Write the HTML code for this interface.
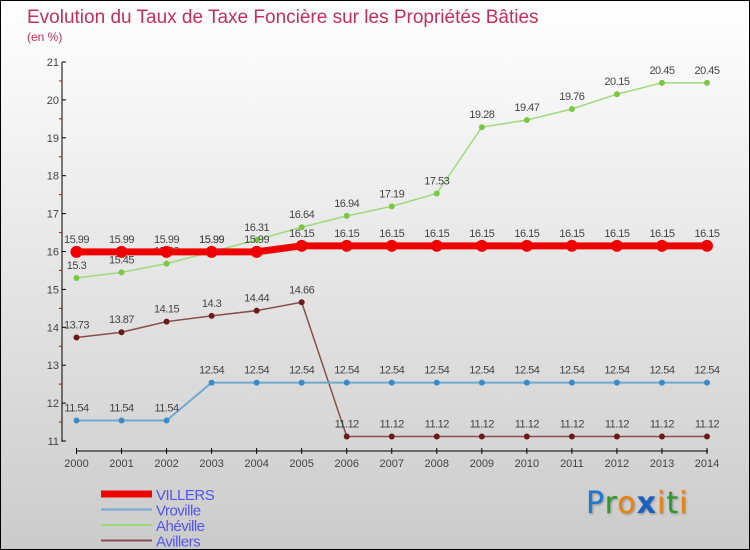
<!DOCTYPE html>
<html><head><meta charset="utf-8"><style>
body{margin:0}
#c{width:750px;height:550px;position:relative;overflow:hidden;box-sizing:border-box;border:1px solid #000;background:linear-gradient(#fff,#cbcbcb);font-family:"Liberation Sans",sans-serif}
svg text{font-family:"Liberation Sans",sans-serif}
</style></head><body>
<div id="c">
<svg id="s" width="750" height="550">
<text x="26" y="22" font-size="19" fill="#c0305a">Evolution du Taux de Taxe Foncière sur les Propriétés Bâties</text>
<text x="26" y="40" font-size="12" fill="#c0305a">(en %)</text>
</svg>
<div style="position:absolute;left:585px;top:485px;font-size:30px;font-family:'DejaVu Sans',sans-serif;letter-spacing:1px;text-shadow:1px 1px 2px #888"><span style="color:#1a7ad0">P</span><span style="color:#2a9a2a">r</span><span style="color:#f08000">o</span><span style="color:#1a60c0;font-weight:bold">x</span><span style="color:#f08000">i</span><span style="color:#2a9a2a">t</span><span style="color:#f08000">i</span></div>
</div>
<script>
const years=[2000,2001,2002,2003,2004,2005,2006,2007,2008,2009,2010,2011,2012,2013,2014];
const villers=[15.99,15.99,15.99,15.99,15.99,16.15,16.15,16.15,16.15,16.15,16.15,16.15,16.15,16.15,16.15];
const vroville=[11.54,11.54,11.54,12.54,12.54,12.54,12.54,12.54,12.54,12.54,12.54,12.54,12.54,12.54,12.54];
const aheville=[15.3,15.45,15.68,15.99,16.31,16.64,16.94,17.19,17.53,19.28,19.47,19.76,20.15,20.45,20.45];
const avillers=[13.73,13.87,14.15,14.3,14.44,14.66,11.12,11.12,11.12,11.12,11.12,11.12,11.12,11.12,11.12];
const yTicks=[11,12,13,14,15,16,17,18,19,20,21];
const NS='http://www.w3.org/2000/svg';
const s=document.getElementById('s');
const X=i=>75.5+i*(706-75.5)/(years.length-1);
const Y=v=>440-(v-11)*37.9;
function mk(t,a){const e=document.createElementNS(NS,t);for(const k in a)e.setAttribute(k,a[k]);s.appendChild(e);return e;}
let e;
e=mk('line',{x1:61,y1:Y(21),x2:61,y2:441,stroke:'#000','stroke-width':1});


e=mk('line',{x1:75,y1:450,x2:707,y2:450,stroke:'#000','stroke-width':1});


yTicks.forEach(v=>{
 mk('line',{x1:61,y1:Y(v),x2:65,y2:Y(v),stroke:'#000'});
 if(v<21)mk('line',{x1:58,y1:Y(v+0.5),x2:61,y2:Y(v+0.5),stroke:'#d00'});
 e=mk('text',{x:58,y:Y(v)+4,'font-size':11,fill:'#444','text-anchor':'end'});e.textContent=v;
 
 
});
years.forEach((y,i)=>{
 mk('line',{x1:X(i),y1:447,x2:X(i),y2:453,stroke:'#000'});
 e=mk('text',{x:X(i),y:466,'font-size':11,fill:'#444','text-anchor':'middle'});e.textContent=y;
 
 
});
function series(d,col,w,r,fill,name){
 e=mk('polyline',{points:d.map((v,i)=>X(i)+','+Y(v)).join(' '),fill:'none',stroke:col,'stroke-width':w});
 
 
 d.forEach((v,i)=>{
  e=mk('circle',{cx:X(i),cy:Y(v),r:r,fill:fill});
  
  
  e=mk('text',{x:X(i),y:Y(v)-9,'font-size':11,fill:'#444','text-anchor':'middle','letter-spacing':'-0.5'});e.textContent=v;
  
  
 });
}
series(avillers,'#8a5050',1.5,3,'#6a1a1a','avillers');
series(vroville,'#70a8d0',2,3,'#3a8ac8','vroville');
series(aheville,'#a0d880',1.5,3,'#7ac840','aheville');
series(villers,'#ee0000',7,6,'#ee0000','villers');
const leg=[['VILLERS','#ee0000',7],['Vroville','#70a8d0',2],['Ahéville','#a0d880',2],['Avillers','#8a5050',2]];
leg.forEach((l,i)=>{
 const y=493+i*15.5;
 e=mk('line',{x1:100,y1:y,x2:151,y2:y,stroke:l[1],'stroke-width':l[2]});
 
 
 e=mk('text',{x:155,y:y+6,'font-size':15,fill:'#5555ee','letter-spacing':'-0.5'});e.textContent=l[0];
 
 
});
</script>
</body></html>
